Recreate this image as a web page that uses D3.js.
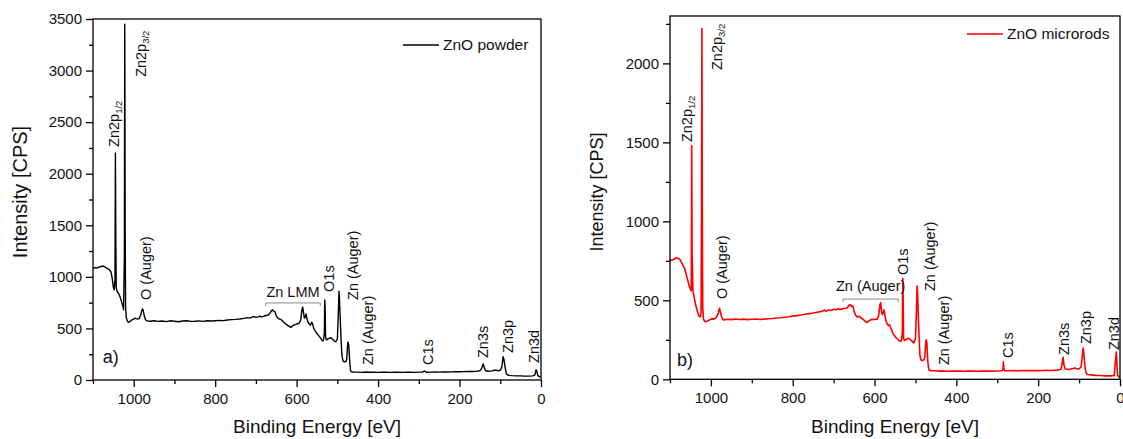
<!DOCTYPE html>
<html>
<head>
<meta charset="utf-8">
<script src="https://cdn.jsdelivr.net/npm/d3@7"></script>
<style>
  html, body { margin: 0; padding: 0; background: #fff; }
  svg { display: block; font-family: "Liberation Sans", Arial, sans-serif; }
</style>
</head>
<body>
<svg id="chart" width="1123" height="439"></svg>
<script>
// XPS survey spectra: binding energy [eV] and intensity [CPS]
const powderEnergy = [
  1100,1095,1090,1085,1080,1076,1072,1068,1064,1060,1056,1053,1050,1048,1046,1045,1044,1043,1041,1039,
  1036,1033,1030,1027,1025,1023,1022,1021,1020,1018,1015,1012,1008,1004,1000,997,994,990,986,982,
  979,977,974,971,968,964,960,950,940,930,920,910,900,890,880,870,860,850,840,830,
  820,810,800,790,780,770,760,750,740,730,720,715,710,705,700,695,690,685,680,675,
  670,665,662,659,656,653,650,646,642,638,634,630,626,622,618,614,610,606,602,598,
  594,590,587,585,583,581,579,577,575,572,569,566,563,561,558,555,552,548,544,540,
  537,534,532,531,530,529,527,524,520,516,512,508,504,500,498,496,495,493,491,489,
  487,485,482,479,477,475,474,472,470,468,466,462,455,450,440,430,420,410,400,390,
  380,370,360,350,340,330,320,310,300,290,286,284,280,270,260,250,240,230,220,210,
  200,190,180,170,160,150,146,142,139,136,130,120,115,110,105,100,96,93,91,88,
  85,80,70,60,50,40,30,20,15,12,10,8,5,2,0
];
const powderCounts = [
  1080,1090,1085,1095,1100,1105,1100,1090,1080,1070,1050,990,900,875,960,2200,1400,900,860,850,
  830,800,760,720,680,1200,3450,1500,700,600,565,560,570,585,590,600,595,590,600,640,
  690,680,620,585,575,572,570,575,568,572,566,574,570,565,572,575,568,570,573,568,
  574,572,575,578,576,582,585,588,592,598,605,600,610,615,608,612,618,612,620,625,
  630,650,670,680,665,660,620,600,590,585,570,555,540,530,520,510,525,535,540,545,
  550,580,680,705,650,600,610,640,600,560,545,530,560,545,500,480,460,440,420,400,
  380,385,450,775,700,420,390,395,405,410,395,380,370,400,600,860,800,600,400,250,
  200,180,175,180,200,330,370,340,200,100,80,78,76,76,74,77,75,76,74,76,
  75,74,76,75,74,76,75,74,76,78,88,80,75,76,77,76,78,77,79,80,
  80,81,82,82,84,90,110,155,120,90,85,88,95,95,90,95,130,225,200,120,
  60,45,42,40,40,38,38,40,50,100,80,45,35,30,30
];

const rodsEnergy = [
  1100,1095,1090,1085,1080,1076,1072,1068,1064,1060,1056,1053,1050,1048,1047,1046,1044,1041,1038,1035,
  1032,1029,1026,1024,1023,1022,1021,1020,1018,1015,1012,1008,1004,1000,997,994,990,986,982,979,
  977,974,971,968,964,960,950,940,930,920,910,900,890,880,870,860,850,840,830,820,
  810,800,790,780,770,760,750,740,730,722,718,712,706,700,694,688,682,676,670,666,
  662,659,656,653,650,646,642,638,634,630,626,622,618,614,610,606,602,598,594,590,
  587,585,583,581,579,577,575,572,569,566,563,561,558,555,552,548,544,540,537,534,
  532,531,530,529,527,524,520,516,512,508,504,500,498,496,495,493,491,489,487,485,
  482,479,477,475,474,472,470,468,466,462,450,440,430,420,410,400,390,380,370,360,
  350,340,330,320,310,300,290,286,285,284,282,270,260,250,240,230,220,210,200,190,
  180,170,160,150,144,141,139,137,134,125,115,110,105,100,95,92,90,88,86,84,
  80,70,60,50,40,30,20,14,12,9,8,6,4,2,0
];
const rodsCounts = [
  750,755,760,770,765,760,740,720,700,660,620,590,570,560,1480,800,560,520,480,450,
  420,400,395,420,1000,2220,1000,450,380,365,365,370,375,380,385,380,385,395,420,450,
  430,395,380,375,378,380,378,382,379,381,378,380,382,379,381,383,385,388,390,393,
  396,400,403,407,412,416,420,425,430,438,430,440,436,443,440,446,442,448,450,455,
  470,472,460,465,430,405,395,400,390,385,375,365,360,370,375,380,378,380,380,400,
  470,485,430,410,420,440,410,370,350,340,345,330,310,290,280,265,255,245,240,245,
  300,640,500,260,245,250,255,260,250,240,230,260,400,590,560,400,250,150,125,120,
  120,125,140,230,250,230,120,70,58,55,54,52,53,51,52,53,52,51,53,52,
  51,52,53,52,51,53,54,60,110,70,55,54,55,54,56,55,55,56,55,56,
  57,56,57,58,65,110,140,90,65,62,68,72,66,65,80,150,198,150,90,50,
  30,28,25,24,22,22,22,25,90,172,120,30,18,15,15
];

// Axis ticks
const powderMajorY = [0,500,1000,1500,2000,2500,3000,3500];
const powderMinorY = [250,750,1250,1750,2250,2750,3250];
const rodsMajorY = [0,500,1000,1500,2000];
const rodsMinorY = [250,750,1250,1750,2250];
const majorX = [1000,800,600,400,200,0];
const minorX = [1100,900,700,500,300,100];

// Peak labels: [text, subscript, energy, intensity at the label's lower end]
const powderPeaks = [
  ["Zn2p", "1/2", 1049, 2260],
  ["Zn2p", "3/2", 983, 2939],
  ["O (Auger)", "", 971, 776],
  ["O1s", "", 520, 854],
  ["Zn (Auger)", "", 463, 776],
  ["Zn (Auger)", "", 426, 145],
  ["C1s", "", 277, 145],
  ["Zn3s", "", 142, 213],
  ["Zn3p", "", 81, 262],
  ["Zn3d", "", 17, 165]
];
const rodsPeaks = [
  ["Zn2p", "1/2", 1059, 1502],
  ["Zn2p", "3/2", 985, 1958],
  ["O (Auger)", "", 973, 508],
  ["O1s", "", 530, 660],
  ["Zn (Auger)", "", 464, 559],
  ["Zn (Auger)", "", 432, 90],
  ["C1s", "", 275, 135],
  ["Zn3s", "", 138, 154],
  ["Zn3p", "", 84, 223],
  ["Zn3d", "", 16, 185]
];
// Bracketed region labels: [text, from energy, to energy, bracket intensity, text intensity]
const powderRegion = ["Zn LMM", 676, 542, 747, 805];
const rodsRegion = ["Zn (Auger)", 677, 542, 508, 559];

const svg = d3.select("#chart");
svg.append("rect").attr("width", 1123).attr("height", 439).attr("fill", "#fff");

function panel(opt) {
  const x = d3.scaleLinear().domain([1100, 0]).range([opt.left, opt.right]);
  const y = d3.scaleLinear().domain([0, opt.yMax]).range([opt.bottom, opt.top]);
  const g = svg.append("g");

  // spectrum
  const pts = opt.energy.map((e, i) => [e, opt.counts[i]]);
  g.append("path")
    .datum(pts)
    .attr("fill", "none")
    .attr("stroke", opt.color)
    .attr("stroke-width", opt.lineWidth)
    .attr("stroke-linejoin", "round")
    .attr("d", d3.line().x(d => x(d[0])).y(d => y(d[1])));

  // frame
  g.append("rect")
    .attr("x", opt.left).attr("y", opt.top)
    .attr("width", opt.right - opt.left).attr("height", opt.bottom - opt.top)
    .attr("fill", "none").attr("stroke", "#000").attr("stroke-width", 1.3);

  const styleAxis = sel => {
    sel.select(".domain").remove();
    sel.selectAll("line").attr("stroke", "#000").attr("stroke-width", 1.3);
    sel.selectAll("text").attr("fill", "#111").style("font-size", "15px")
      .style("font-family", "'Liberation Sans', Arial, sans-serif");
  };

  g.append("g").attr("transform", `translate(${opt.left},0)`)
    .call(d3.axisLeft(y).tickValues(opt.majorY).tickSize(7).tickPadding(4).tickFormat(d3.format("d")))
    .call(styleAxis);
  g.append("g").attr("transform", `translate(${opt.left},0)`)
    .call(d3.axisLeft(y).tickValues(opt.minorY).tickSize(4).tickFormat(""))
    .call(styleAxis);
  const xAxis = g.append("g").attr("transform", `translate(0,${opt.bottom})`)
    .call(d3.axisBottom(x).tickValues(majorX).tickSize(7).tickPadding(6).tickFormat(d3.format("d")))
    .call(styleAxis);
  if (opt.endAlignZero) {
    // keep the "0" label inside the page edge
    xAxis.selectAll(".tick").filter(d => d === 0).select("text")
      .attr("text-anchor", "end").attr("x", 4);
  }
  g.append("g").attr("transform", `translate(0,${opt.bottom})`)
    .call(d3.axisBottom(x).tickValues(minorX).tickSize(4).tickFormat(""))
    .call(styleAxis);

  // axis titles
  g.append("text")
    .attr("x", (opt.left + opt.right) / 2).attr("y", 433)
    .attr("text-anchor", "middle").style("font-size", "19px").attr("fill", "#111")
    .text("Binding Energy [eV]");
  g.append("text")
    .attr("transform", `translate(${opt.yTitleX},192) rotate(-90)`)
    .attr("text-anchor", "middle").attr("dy", "0.35em")
    .style("font-size", opt.yTitleSize + "px").attr("fill", "#111")
    .text("Intensity [CPS]");

  // peak labels (rotated)
  opt.peaks.forEach(p => {
    const t = g.append("text")
      .attr("transform", `translate(${x(p[2])},${y(p[3])}) rotate(-90)`)
      .attr("dy", "0.36em").attr("text-anchor", "start")
      .style("font-size", "14.5px").attr("fill", "#111")
      .text(p[0]);
    if (p[1]) {
      t.append("tspan").attr("dy", "0.3em").style("font-size", "9.5px").text(p[1]);
    }
  });

  // bracketed region label
  const r = opt.region;
  const yb = y(r[3]);
  g.append("path")
    .attr("d", `M${x(r[1])},${yb + 3}V${yb}H${x(r[2])}V${yb + 3}`)
    .attr("fill", "none").attr("stroke", "#888").attr("stroke-width", 1);
  g.append("text")
    .attr("x", (x(r[1]) + x(r[2])) / 2).attr("y", y(r[4]))
    .attr("text-anchor", "middle").style("font-size", "14.5px").attr("fill", "#111")
    .text(r[0]);

  // panel letter
  g.append("text")
    .attr("x", x(opt.letterPos[0])).attr("y", y(opt.letterPos[1]))
    .style("font-size", "18px").attr("fill", "#111")
    .text(opt.letter);

  // legend
  g.append("line")
    .attr("x1", opt.legend[0]).attr("x2", opt.legend[0] + 36)
    .attr("y1", opt.legend[1]).attr("y2", opt.legend[1])
    .attr("stroke", opt.color).attr("stroke-width", opt.lineWidth);
  g.append("text")
    .attr("x", opt.legend[0] + 40).attr("y", opt.legend[1]).attr("dy", "0.35em")
    .style("font-size", "15.5px").attr("fill", "#111")
    .text(opt.name);
}

panel({
  left: 93, right: 541, top: 19, bottom: 380, yMax: 3500,
  energy: powderEnergy, counts: powderCounts, color: "#000", lineWidth: 1.4,
  majorY: powderMajorY, minorY: powderMinorY,
  peaks: powderPeaks, region: powderRegion,
  letter: "a)", letterPos: [1076, 165],
  legend: [403, 45], name: "ZnO powder",
  yTitleX: 20, yTitleSize: 20, endAlignZero: false
});

panel({
  left: 670, right: 1120, top: 16, bottom: 379.3, yMax: 2300,
  energy: rodsEnergy, counts: rodsCounts, color: "#ff0000", lineWidth: 1.6,
  majorY: rodsMajorY, minorY: rodsMinorY,
  peaks: rodsPeaks, region: rodsRegion,
  letter: "b)", letterPos: [1083, 84],
  legend: [967, 34], name: "ZnO microrods",
  yTitleX: 597, yTitleSize: 18, endAlignZero: true
});
</script>
</body>
</html>
